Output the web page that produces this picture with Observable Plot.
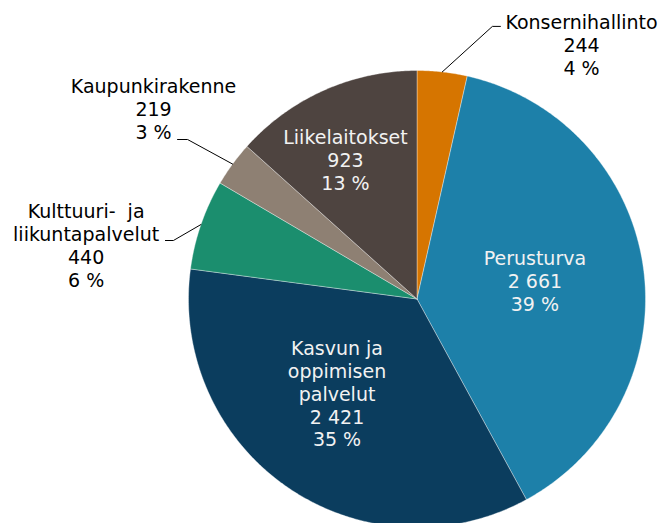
<!DOCTYPE html>
<html><head><meta charset="utf-8">
<script src="https://cdn.jsdelivr.net/npm/d3@7"></script>
<script src="https://cdn.jsdelivr.net/npm/@observablehq/plot@0.6"></script>
<style>body{margin:0;background:#fff;}</style>
</head><body><div id="chart"></div>
<script>
// ---- data ----
const categories = ["Konsernihallinto","Perusturva","Kasvun ja oppimisen palvelut","Kulttuuri- ja liikuntapalvelut","Kaupunkirakenne","Liikelaitokset"];
const labelNames = ["Konsernihallinto","Perusturva","Kasvun ja\noppimisen\npalvelut","Kulttuuri-\u00a0 ja\nliikuntapalvelut","Kaupunkirakenne","Liikelaitokset"];
const values = [244, 2661, 2421, 440, 219, 923];
const colors = ["#D67500","#1D80A9","#0B3D5E","#1B8E6E","#8E8073","#4E4440"];

// ---- layout (positions in pie units, radius = 1) ----
const labelPos = [[0.72,1.114],[0.516,0.081],[-0.350,-0.414],[-1.448,0.236],[-1.153,0.832],[-0.313,0.609]];
const inside = [false,true,true,false,false,true];
const leaderElbow = {0:[[0.330,1.193],[0.365,1.193]], 3:[[-1.066,0.256],[-1.101,0.256]], 4:[[-1.004,0.698],[-1.048,0.698]]};

const total = d3.sum(values);
const fmt = d3.formatLocale({thousands:"\u00a0", grouping:[3], decimal:",", currency:["",""]}).format(",");
const arcs = d3.pie().sort(null)(values);

const slicePts = [];
arcs.forEach((a, i) => {
  slicePts.push({cat: categories[i], x: 0, y: 0});
  const n = Math.max(2, Math.ceil((a.endAngle - a.startAngle) / (Math.PI / 360)));
  for (let k = 0; k <= n; k++) {
    const t = a.startAngle + (a.endAngle - a.startAngle) * k / n;
    slicePts.push({cat: categories[i], x: Math.sin(t), y: Math.cos(t)});
  }
  slicePts.push({cat: categories[i], x: 0, y: 0});
});

const labels = categories.map((c, i) => ({
  cat: c,
  x: labelPos[i][0], y: labelPos[i][1],
  text: labelNames[i] + "\n" + fmt(values[i]) + "\n" + Math.round(values[i] / total * 100) + " %",
  inside: inside[i]
}));

const leaders = [];
Object.entries(leaderElbow).forEach(([k, pts]) => {
  const i = +k, a = arcs[i], m = (a.startAngle + a.endAngle) / 2;
  leaders.push({cat: categories[i], x: Math.sin(m), y: Math.cos(m)});
  pts.forEach(p => leaders.push({cat: categories[i], x: p[0], y: p[1]}));
});

const chart = Plot.plot({
  width: 662, height: 523, margin: 0,
  x: {domain: [-1, 1], range: [188, 645], axis: null},
  y: {domain: [-1, 1], range: [527, 70], axis: null},
  color: {domain: categories, range: colors},
  style: {fontFamily: "'DejaVu Sans', Verdana, sans-serif", background: "white"},
  marks: [
    Plot.line(slicePts, {x: "x", y: "y", z: "cat", fill: "cat", stroke: "white", strokeWidth: 0.6, strokeOpacity: 0.6, curve: "linear"}),
    Plot.line(leaders, {x: "x", y: "y", z: "cat", stroke: "#000", strokeWidth: 1, curve: "linear"}),
    Plot.text(labels.filter(d => d.inside), {x: "x", y: "y", text: "text", fill: "#f2f2f2", fontSize: 19, lineHeight: 1.2, textAnchor: "middle"}),
    Plot.text(labels.filter(d => !d.inside), {x: "x", y: "y", text: "text", fill: "#000", fontSize: 19, lineHeight: 1.2, textAnchor: "middle"})
  ]
});
document.getElementById("chart").appendChild(chart);
</script>
</body></html>
